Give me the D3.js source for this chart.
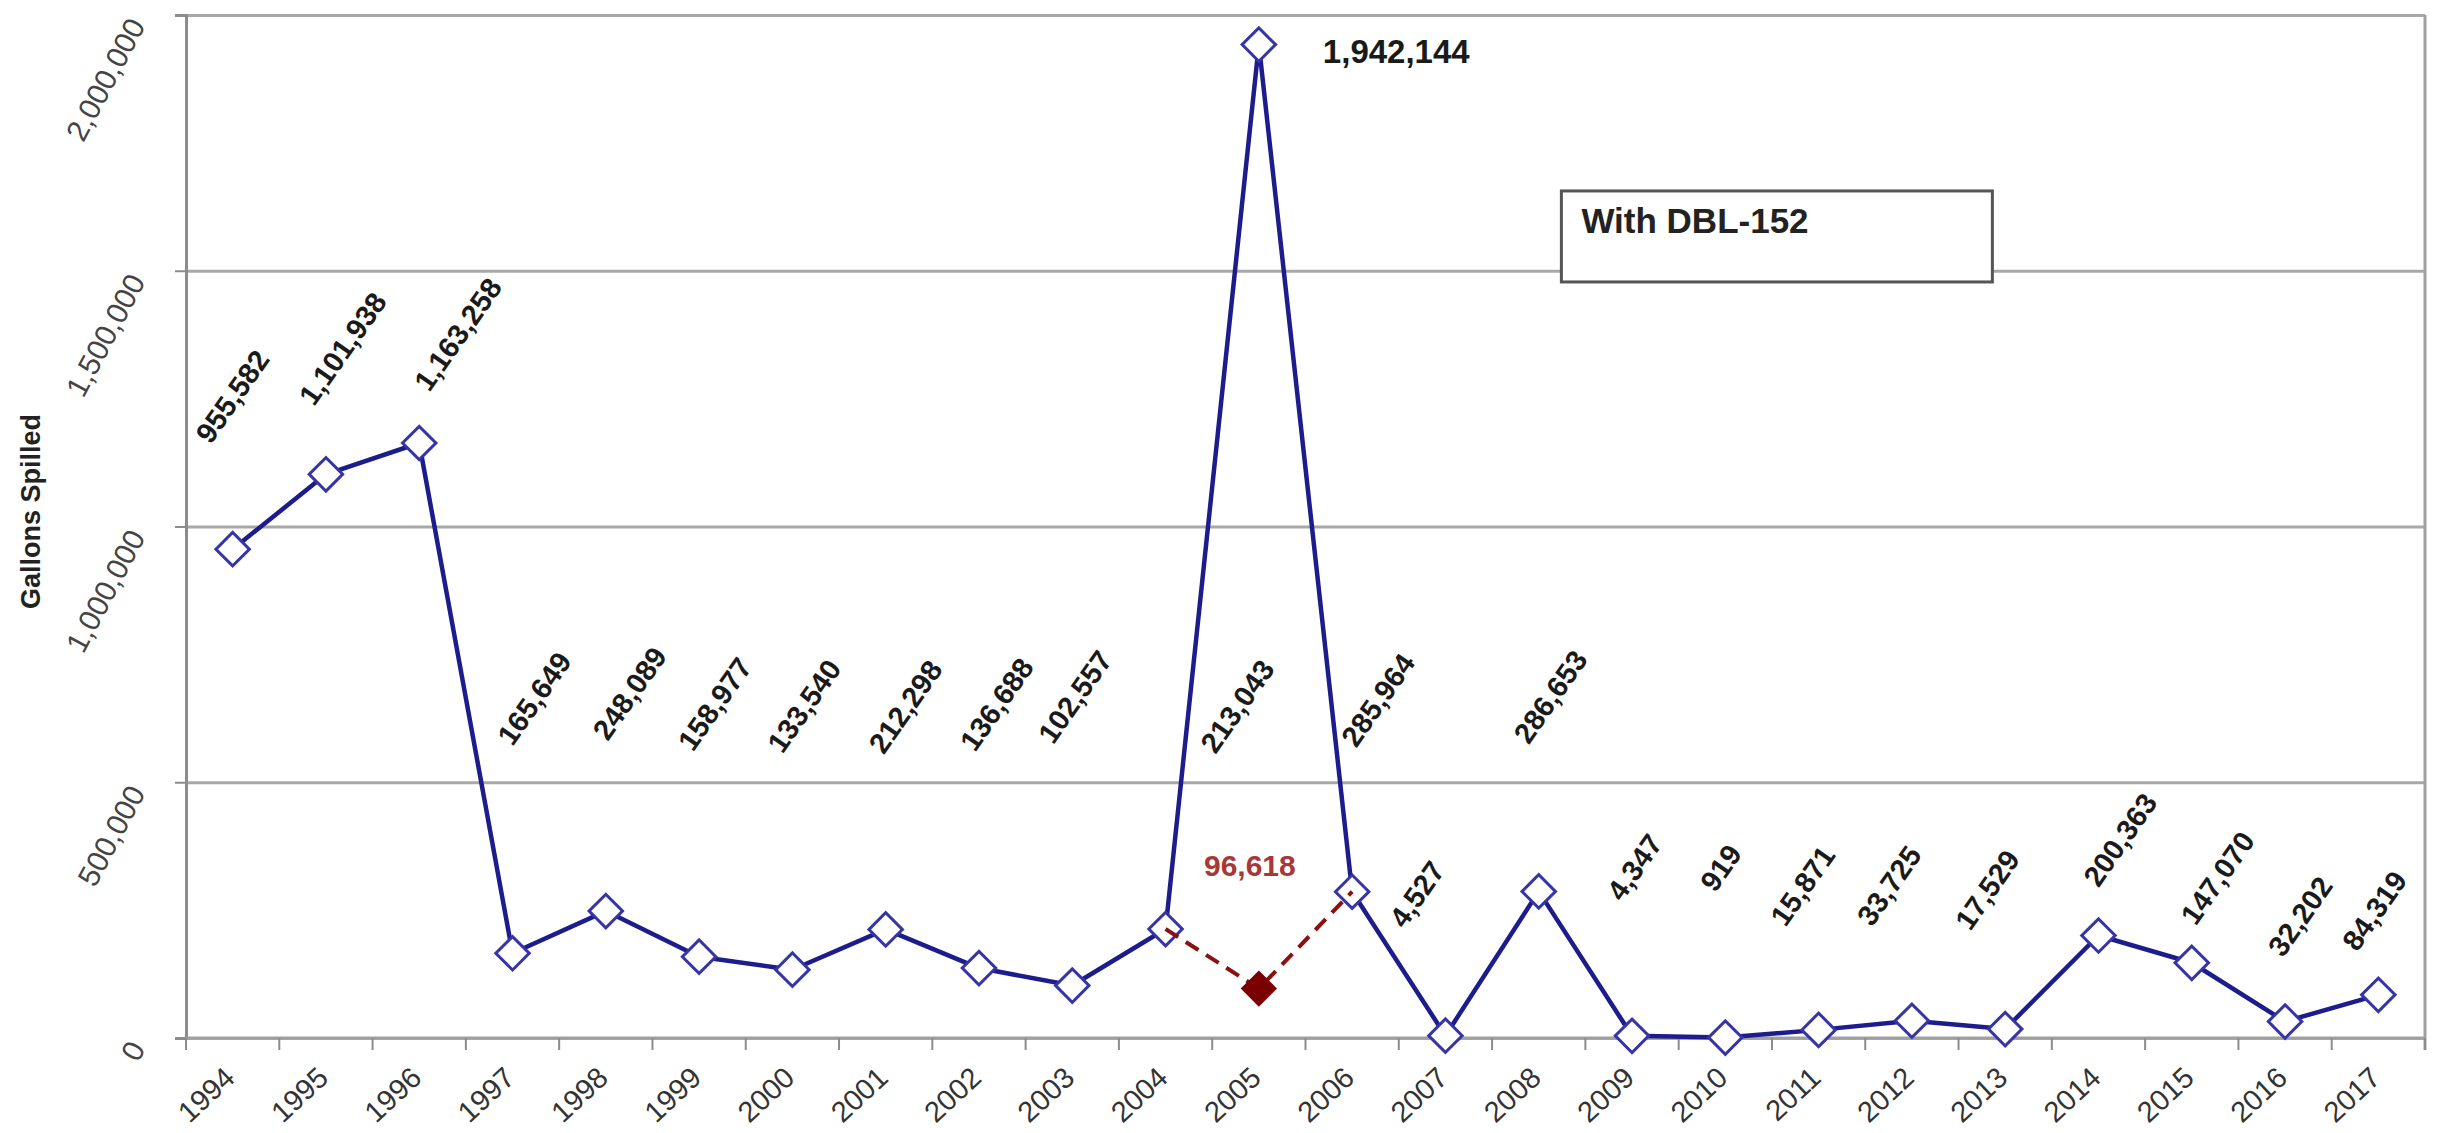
<!DOCTYPE html>
<html>
<head>
<meta charset="utf-8">
<script src="https://cdnjs.cloudflare.com/ajax/libs/d3/7.8.5/d3.min.js"></script>
<style>
  body { margin: 0; background: #fff; }
  svg text { font-family: "Liberation Sans", Arial, sans-serif; }
</style>
</head>
<body>
<div id="chart"></div>
<script>
// --- data ---
var years = [1994, 1995, 1996, 1997, 1998, 1999, 2000, 2001, 2002, 2003, 2004, 2005,
             2006, 2007, 2008, 2009, 2010, 2011, 2012, 2013, 2014, 2015, 2016, 2017];
var gallons = [955582, 1101938, 1163258, 165649, 248089, 158977, 133540, 212298, 136688, 102557, 213043, 1942144,
               285964, 4527, 286653, 4347, 919, 15871, 33725, 17529, 200363, 147070, 32202, 84319];
// 2005 without the DBL-152 spill
var altYears = [2004, 2005, 2006];
var altGallons = [213043, 96618, 285964];
var yTicks = [0, 500000, 1000000, 1500000, 2000000];
var yTitle = "Gallons Spilled";
var noteText = "With DBL-152";

// label placement relative to each point (px)
var labelNudge = [[-22, -104], [-12, -67], [10, -50], [0, -206], [2, -169], [-6, -204], [-10, -215], [-2, -174],
                  [-4, -215], [-19, -240], [50, -174], [64, 18], [4, -143], [-41, -106], [-10, -146], [-10, -133],
                  [-10, -144], [-33, -102], [-40, -93], [-35, -97], [0, -47], [4, -36], [-2, -63], [-21, -42]];

var svgWidth = 2445,
    svgHeight = 1133,
    margin = { top: 15, right: 20, bottom: 95, left: 186 },
    width = svgWidth - margin.left - margin.right,
    height = svgHeight - margin.top - margin.bottom;

var fmt = d3.format(",");

var x = d3.scaleBand().domain(years).range([0, width]),
    y = d3.scaleLinear().domain([0, 2000000]).range([height, 0]);

function cx(yr) { return x(yr) + x.bandwidth() / 2; }

var svg = d3.select("#chart").append("svg")
    .attr("width", svgWidth)
    .attr("height", svgHeight);

var g = svg.append("g")
    .attr("transform", "translate(" + margin.left + "," + margin.top + ")");

// gridlines
g.append("g")
    .attr("class", "grid")
    .call(d3.axisLeft(y).tickValues(yTicks).tickSize(-width).tickFormat(""))
    .call(function(s) {
      s.select(".domain").remove();
      s.selectAll("line").attr("stroke", "#a8a8a8").attr("stroke-width", 3);
    });

// right border
g.append("line")
    .attr("x1", width).attr("x2", width)
    .attr("y1", 0).attr("y2", height + 12)
    .attr("stroke", "#a0a0a0").attr("stroke-width", 3);

// y axis
var yAxis = g.append("g")
    .call(d3.axisLeft(y).tickValues(yTicks).tickSize(11).tickFormat(fmt));
yAxis.select(".domain").attr("stroke", "#8c8c8c").attr("stroke-width", 3);
yAxis.selectAll(".tick line").attr("stroke", "#8c8c8c").attr("stroke-width", 2);
yAxis.selectAll(".tick text")
    .attr("x", null).attr("dy", null)
    .attr("transform", "translate(-40,10) rotate(-62)")
    .attr("text-anchor", "end")
    .attr("font-size", 30)
    .attr("fill", "#444");

// x axis baseline + boundary ticks
g.append("line")
    .attr("x1", 0).attr("x2", width)
    .attr("y1", height).attr("y2", height)
    .attr("stroke", "#a0a0a0").attr("stroke-width", 3);

g.append("g").selectAll("line")
    .data(years.concat(["end"]))
    .enter().append("line")
    .attr("x1", function(d) { return d === "end" ? width : x(d); })
    .attr("x2", function(d) { return d === "end" ? width : x(d); })
    .attr("y1", height).attr("y2", height + 12)
    .attr("stroke", "#8c8c8c").attr("stroke-width", 2);

var xAxis = g.append("g")
    .attr("transform", "translate(0," + height + ")")
    .call(d3.axisBottom(x).tickSize(0));
xAxis.select(".domain").remove();
xAxis.selectAll(".tick text")
    .attr("y", null).attr("dy", null)
    .attr("transform", "translate(4,42) rotate(-43)")
    .attr("text-anchor", "end")
    .attr("font-size", 29)
    .attr("fill", "#333");

// y title
svg.append("text")
    .attr("transform", "translate(40," + (margin.top + y(1000000) - 15) + ") rotate(-90)")
    .attr("text-anchor", "middle")
    .attr("font-size", 27)
    .attr("font-weight", "bold")
    .attr("fill", "#222")
    .text(yTitle);

// main series
var line = d3.line()
    .x(function(d) { return cx(d[0]); })
    .y(function(d) { return y(d[1]); });

var pts = years.map(function(yr, i) { return [yr, gallons[i]]; });

g.append("path")
    .datum(pts)
    .attr("d", line)
    .attr("fill", "none")
    .attr("stroke", "#1c1c8c")
    .attr("stroke-width", 4.5)
    .attr("stroke-linejoin", "round");

var diamond = d3.symbol().type(d3.symbolSquare).size(560);

g.selectAll(".marker")
    .data(pts)
    .enter().append("path")
    .attr("class", "marker")
    .attr("d", diamond)
    .attr("transform", function(d) { return "translate(" + cx(d[0]) + "," + y(d[1]) + ") rotate(45)"; })
    .attr("fill", "#fff")
    .attr("stroke", "#3535a8")
    .attr("stroke-width", 3);

// alternative (without DBL-152)
var altPts = altYears.map(function(yr, i) { return [yr, altGallons[i]]; });

g.append("path")
    .datum(altPts)
    .attr("d", line)
    .attr("fill", "none")
    .attr("stroke", "#8b1010")
    .attr("stroke-width", 4)
    .attr("stroke-dasharray", "15,9");

g.append("path")
    .attr("d", diamond)
    .attr("transform", "translate(" + cx(altYears[1]) + "," + y(altGallons[1]) + ") rotate(45)")
    .attr("fill", "#7a0000")
    .attr("stroke", "#7a0000")
    .attr("stroke-width", 2);

g.append("text")
    .attr("x", cx(altYears[1]) - 9)
    .attr("y", y(altGallons[1]) - 113)
    .attr("text-anchor", "middle")
    .attr("font-size", 30)
    .attr("font-weight", "bold")
    .attr("fill", "#a83838")
    .text(fmt(altGallons[1]));

// data labels
g.selectAll(".dlabel")
    .data(pts)
    .enter().append("text")
    .attr("class", "dlabel")
    .attr("transform", function(d, i) {
      var px = cx(d[0]) + labelNudge[i][0],
          py = y(d[1]) + labelNudge[i][1];
      return "translate(" + px + "," + py + ")" + (d[1] === d3.max(gallons) ? "" : " rotate(-55)");
    })
    .attr("font-size", function(d) { return d[1] === d3.max(gallons) ? 33 : 29; })
    .attr("font-weight", "bold")
    .attr("fill", "#1a1a1a")
    .text(function(d) { return fmt(d[1]); });

// note box
var note = g.append("g")
    .attr("transform", "translate(" + (x(2009) - 24) + "," + y(1656000) + ")");
note.append("rect")
    .attr("width", 431).attr("height", 91)
    .attr("fill", "#fff")
    .attr("stroke", "#555")
    .attr("stroke-width", 3);
note.append("text")
    .attr("x", 20).attr("y", 42)
    .attr("font-size", 35)
    .attr("font-weight", "bold")
    .attr("fill", "#222")
    .text(noteText);
</script>
</body>
</html>
